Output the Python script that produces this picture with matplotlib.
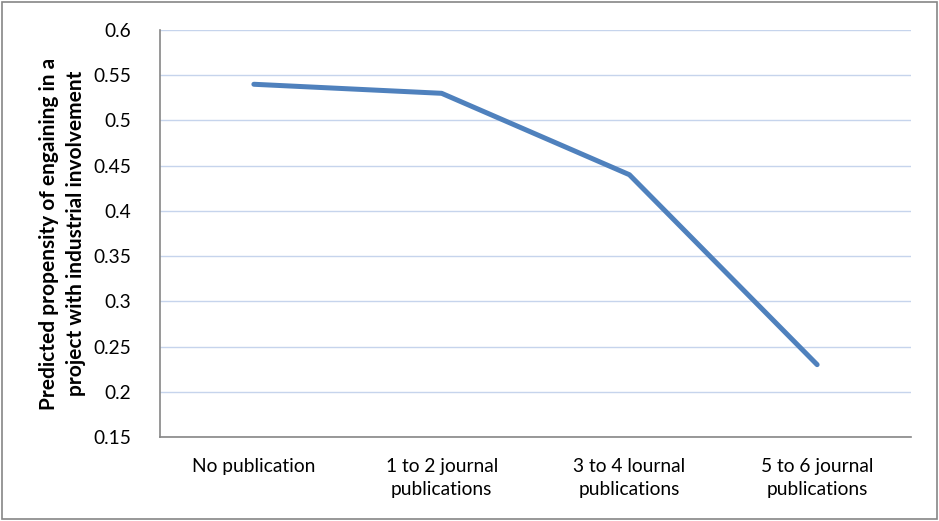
import matplotlib.pyplot as plt
from matplotlib.patches import Rectangle

categories = ["No publication", "1 to 2 journal\npublications",
              "3 to 4 lournal\npublications", "5 to 6 journal\npublications"]
propensity = [0.54, 0.53, 0.44, 0.23]
y_ticks = [0.15, 0.2, 0.25, 0.3, 0.35, 0.4, 0.45, 0.5, 0.55, 0.6]

plt.rcParams['font.family'] = ['Lato', 'DejaVu Sans']

fig = plt.figure(figsize=(9.39, 5.21), dpi=100)
ax = fig.add_axes([160 / 939, 1 - 437 / 521, 751 / 939, 407 / 521])

x = range(len(categories))
ax.plot(x, propensity, color="#4F81BD", linewidth=3.6, solid_capstyle="round", zorder=3)

ax.set_xlim(-0.5, len(categories) - 0.5)
ax.set_ylim(0.15, 0.6)
ax.set_yticks(y_ticks)
ax.set_yticklabels([f"{v:g}" for v in y_ticks])
ax.set_xticks(list(x))
ax.set_xticklabels(categories, linespacing=1.45)
ax.tick_params(axis="both", length=0, labelsize=13.8, colors="black")
ax.tick_params(axis="y", pad=21)
ax.tick_params(axis="x", pad=15)

ax.grid(axis="y", color="#C6D4EC", linewidth=1)
ax.set_axisbelow(True)
for side in ["top", "right"]:
    ax.spines[side].set_visible(False)
for side in ["left", "bottom"]:
    ax.spines[side].set_color("#868686")
    ax.spines[side].set_linewidth(1.2)

ax.set_ylabel("Predicted propensity of engaining in a\nproject with industrial involvement",
              fontsize=15, fontweight="bold", labelpad=5, linespacing=1.45)

fig.patches.append(Rectangle((2 / 939, 2 / 521), 935 / 939, 517 / 521, transform=fig.transFigure,
                             fill=False, edgecolor="#868686", linewidth=1.2))

fig.savefig("out.png", dpi=100)
